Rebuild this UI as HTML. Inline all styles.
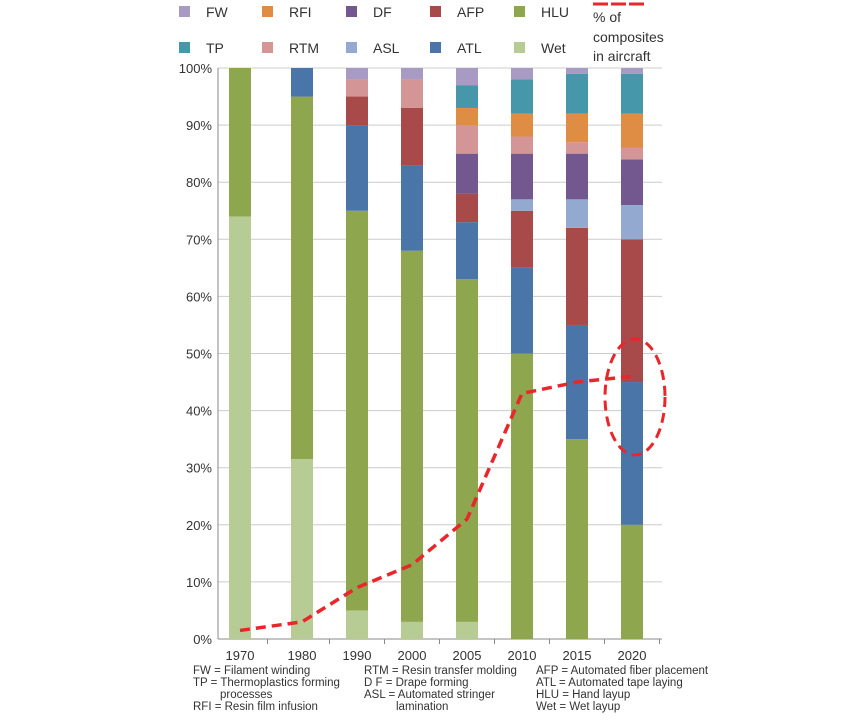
<!DOCTYPE html>
<html><head><meta charset="utf-8"><style>
body{margin:0;background:#fff;width:860px;height:717px;overflow:hidden;font-family:"Liberation Sans",sans-serif}
svg text{font-family:"Liberation Sans",sans-serif;fill:#333}
</style></head><body>
<svg id="c" width="860" height="717"></svg>
<script>
const years=["1970","1980","1990","2000","2005","2010","2015","2020"];
const series=["Wet","HLU","ATL","AFP","ASL","DF","RTM","RFI","TP","FW"];
const wet=[74,31.5,5,3,3,0,0,0];
const hlu=[26,63.5,70,65,60,50,35,20];
const atl=[0,5,15,15,10,15,20,25];
const afp=[0,0,5,10,5,10,17,25];
const asl=[0,0,0,0,0,2,5,6];
const df=[0,0,0,0,7,8,8,8];
const rtm=[0,0,3,5,5,3,2,2];
const rfi=[0,0,0,0,3,4,5,6];
const tp=[0,0,0,0,4,6,7,7];
const fw=[0,0,2,2,3,2,1,1];
const composites=[1.5,3,9,13,21,43,45,46];
const yTicks=[0,10,20,30,40,50,60,70,80,90,100];
const colors={Wet:"#b7cc94",HLU:"#8ea64d",ATL:"#4a75a8",AFP:"#a84a4a",ASL:"#93a9d0",DF:"#73578f",RTM:"#d49596",RFI:"#df8c45",TP:"#4597a9",FW:"#a79bc3"};
const vals={Wet:wet,HLU:hlu,ATL:atl,AFP:afp,ASL:asl,DF:df,RTM:rtm,RFI:rfi,TP:tp,FW:fw};
const NS="http://www.w3.org/2000/svg",svg=document.getElementById('c');
function el(t,a,p){const e=document.createElementNS(NS,t);for(const k in a)e.setAttribute(k,a[k]);(p||svg).appendChild(e);return e;}
const y0=639,y1=68,xL=218,xR=662;
const Y=v=>y0-(y0-y1)*v/100;
const X=i=>i===0?240:302+(i-1)*55;
yTicks.forEach(t=>{
 const l=el('line',{x1:xL,x2:xR,y1:Y(t),y2:Y(t),stroke:t===0?'#888':'#ccc','stroke-width':1});
 
 const tx=el('text',{x:212,y:Y(t)+5,'text-anchor':'end','font-size':13});tx.textContent=t+'%';
 
});
el('line',{x1:xL,x2:xL,y1:y1,y2:y0,stroke:'#888'});
years.forEach((yr,i)=>{
 let acc=0;
 series.forEach(s=>{const v=vals[s][i];if(v>0){const r=el('rect',{x:X(i)-11,y:Y(acc+v),width:22,height:Y(acc)-Y(acc+v),fill:colors[s]});
 }acc+=v;});
 const t=el('text',{x:X(i),y:660,'text-anchor':'middle','font-size':13});t.textContent=yr;
 
 el('line',{x1:X(i)+27.5,x2:X(i)+27.5,y1:y0,y2:y0+5,stroke:'#888'});
});
const pts=composites.map((v,i)=>X(i)+','+Y(v)).join(' ');
const pl=el('polyline',{points:pts,fill:'none',stroke:'#e8262b','stroke-width':3.5,'stroke-dasharray':'10,6'});

const e=el('ellipse',{cx:635,cy:397,rx:30,ry:58,fill:'none',stroke:'#e8262b','stroke-width':3,'stroke-dasharray':'10,6'});

const legItems=[["FW",179,12],["RFI",262,12],["DF",346,12],["AFP",430,12],["HLU",514,12],["TP",179,48],["RTM",262,48],["ASL",346,48],["ATL",430,48],["Wet",514,48]];
legItems.forEach(([s,x,y])=>{
 const g=el('g',{});
 el('rect',{x:x,y:y-6,width:11,height:11,fill:colors[s]},g);
 const t=el('text',{x:x+27,y:y+5,'font-size':14},g);t.textContent=s;
});
const lg=el('g',{});
el('line',{x1:593,x2:647,y1:4,y2:4,stroke:'#e8262b','stroke-width':3,'stroke-dasharray':'15,3'},lg);
[["% of",22],["composites",42],["in aircraft",61]].forEach(([s,y])=>{const t=el('text',{x:593,y:y,'font-size':14},lg);t.textContent=s;});
const notes=[[193,674,"FW = Filament winding"],[193,686,"TP = Thermoplastics forming"],[220,698,"processes"],[193,710,"RFI = Resin film infusion"],
[364,674,"RTM = Resin transfer molding"],[364,686,"D F  = Drape forming"],[364,698,"ASL = Automated stringer"],[396,710,"lamination"],
[536,674,"AFP = Automated fiber placement"],[536,686,"ATL = Automated tape laying"],[536,698,"HLU = Hand layup"],[536,710,"Wet = Wet layup"]];
notes.forEach(([x,y,s],i)=>{const t=el('text',{x:x,y:y,'font-size':11.5});t.textContent=s;
 });
</script>
</body></html>
